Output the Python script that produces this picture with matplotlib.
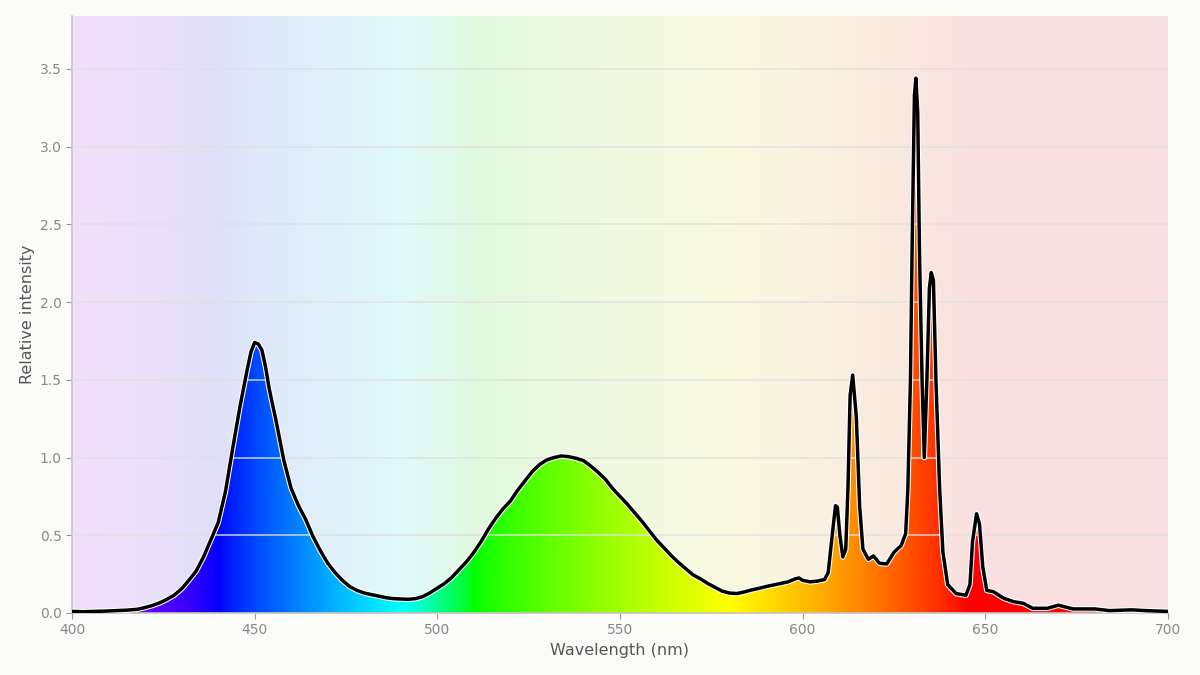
import numpy as np
import matplotlib
matplotlib.use("Agg")
import matplotlib.pyplot as plt
import matplotlib.patheffects as pe

# wavelength (nm) and relative intensity
wavelength = [
    400, 403, 406, 409, 412, 415, 418, 420, 422, 424, 426, 428, 430, 432, 434,
    436, 438, 440, 442, 444, 446, 448, 449, 450, 451, 452, 453, 454, 456, 458,
    460, 462, 464, 466, 468, 470, 472, 474, 476, 478, 480, 482, 484, 486, 488,
    490, 492, 494, 496, 498, 500, 502, 504, 506, 508, 510, 512, 514, 516, 518,
    520, 522, 524, 526, 528, 530, 532, 534, 536, 538, 540, 542, 544, 546, 548,
    550, 552, 554, 556, 558, 560, 562, 564, 566, 568, 570, 572, 574, 576, 578,
    580, 582, 584, 586, 588, 590, 592, 594, 596, 598, 599, 600, 602, 604, 606,
    607, 608, 609, 609.5, 610.2, 611, 611.8, 612.4, 613, 613.7, 614.7, 615.6,
    616.5, 618, 619.4, 621, 623, 625, 627, 628.2, 628.8, 629.5, 630, 630.6, 631,
    631.5, 632, 632.7, 633.3, 634, 634.7, 635.2, 635.8, 636.5, 637.5, 638.4,
    639.7, 642, 644.7, 645.8, 646.5, 647.6, 648.4, 649.3, 650.4, 652.2, 655,
    657.7, 660.4, 663, 667, 670, 674, 680, 684, 690, 694, 700,
]
intensity = [
    0.010, 0.008, 0.010, 0.012, 0.015, 0.018, 0.024, 0.035, 0.048, 0.065, 0.088,
    0.115, 0.155, 0.21, 0.27, 0.36, 0.47, 0.58, 0.78, 1.06, 1.33, 1.57, 1.68,
    1.74, 1.73, 1.69, 1.58, 1.44, 1.22, 0.98, 0.80, 0.69, 0.60, 0.49, 0.40, 0.32,
    0.26, 0.21, 0.17, 0.145, 0.128, 0.118, 0.108, 0.098, 0.092, 0.090, 0.088,
    0.092, 0.105, 0.13, 0.16, 0.19, 0.23, 0.28, 0.33, 0.39, 0.46, 0.54, 0.61,
    0.67, 0.72, 0.79, 0.85, 0.91, 0.955, 0.985, 1.0, 1.01, 1.005, 0.995, 0.98,
    0.945, 0.905, 0.86, 0.80, 0.75, 0.70, 0.645, 0.59, 0.53, 0.47, 0.42, 0.37,
    0.325, 0.285, 0.245, 0.22, 0.19, 0.165, 0.14, 0.128, 0.125, 0.135, 0.148,
    0.158, 0.17, 0.18, 0.19, 0.20, 0.22, 0.225, 0.21, 0.20, 0.205, 0.215, 0.26,
    0.48, 0.69, 0.68, 0.50, 0.36, 0.41, 0.80, 1.40, 1.53, 1.26, 0.69, 0.41,
    0.345, 0.367, 0.32, 0.315, 0.39, 0.435, 0.51, 0.80, 1.49, 2.41, 3.33, 3.44,
    3.22, 2.30, 1.49, 1.00, 1.49, 2.09, 2.19, 2.14, 1.49, 0.80, 0.39, 0.183,
    0.125, 0.114, 0.183, 0.458, 0.638, 0.574, 0.298, 0.145, 0.137, 0.095, 0.073,
    0.062, 0.030, 0.030, 0.050, 0.026, 0.026, 0.015, 0.020, 0.015, 0.010,
]

x_min, x_max = 400, 700
y_max = 3.84


def wl_to_rgb(w):
    # classic piecewise approximation of visible spectrum colours
    if w < 440:
        r, g, b = -(w - 440) / (440 - 380), 0.0, 1.0
    elif w < 490:
        r, g, b = 0.0, (w - 440) / (490 - 440), 1.0
    elif w < 510:
        r, g, b = 0.0, 1.0, -(w - 510) / (510 - 490)
    elif w < 580:
        r, g, b = (w - 510) / (580 - 510), 1.0, 0.0
    elif w < 645:
        r, g, b = 1.0, -(w - 645) / (645 - 580), 0.0
    else:
        r, g, b = 1.0, 0.0, 0.0
    return [c ** 0.8 for c in (r, g, b)]


grid_wl = np.linspace(x_min, x_max, 600)
spec = np.array([wl_to_rgb(w) for w in grid_wl])[None, :, :]
pale = 0.975 * 0.9 + 0.1 * spec

fig = plt.figure(figsize=(12, 6.75), dpi=100)
fig.patch.set_facecolor("#fbfbf9")
ax = fig.add_axes([0.06, 0.0919, 0.9133, 0.8844])

ax.imshow(pale, extent=[x_min, x_max, 0, y_max], aspect="auto", zorder=0)

poly = ax.fill_between(wavelength, intensity, 0, color="none", zorder=1)
img = ax.imshow(spec, extent=[x_min, x_max, 0, y_max], aspect="auto", zorder=2)
img.set_clip_path(poly.get_paths()[0], transform=ax.transData)

for yv in np.arange(0.5, 3.6, 0.5):
    ax.axhline(yv, color="#e0e0e0", lw=1.1, alpha=0.9, zorder=3)

ax.plot(wavelength, intensity, color="black", lw=2.5, zorder=4,
        solid_joinstyle="round",
        path_effects=[pe.Stroke(linewidth=4.0, foreground="white"), pe.Normal()])

ax.set_xlim(x_min, x_max)
ax.set_ylim(0, y_max)
ax.set_xticks(np.arange(400, 701, 50))
ax.set_yticks(np.arange(0, 3.6, 0.5))
ax.set_yticklabels([f"{v:.1f}" for v in np.arange(0, 3.6, 0.5)])

for s in ["top", "right"]:
    ax.spines[s].set_visible(False)
for s in ["left", "bottom"]:
    ax.spines[s].set_color("#c8c4bc")
    ax.spines[s].set_linewidth(1.2)
ax.tick_params(colors="#999999", labelcolor="#888888", labelsize=10, length=4)

ax.set_xlabel("Wavelength (nm)", fontsize=11.5, color="#555555", labelpad=4)
ax.set_ylabel("Relative intensity", fontsize=11.5, color="#555555", labelpad=3)

fig.savefig("out.png", dpi=100, facecolor=fig.get_facecolor())
